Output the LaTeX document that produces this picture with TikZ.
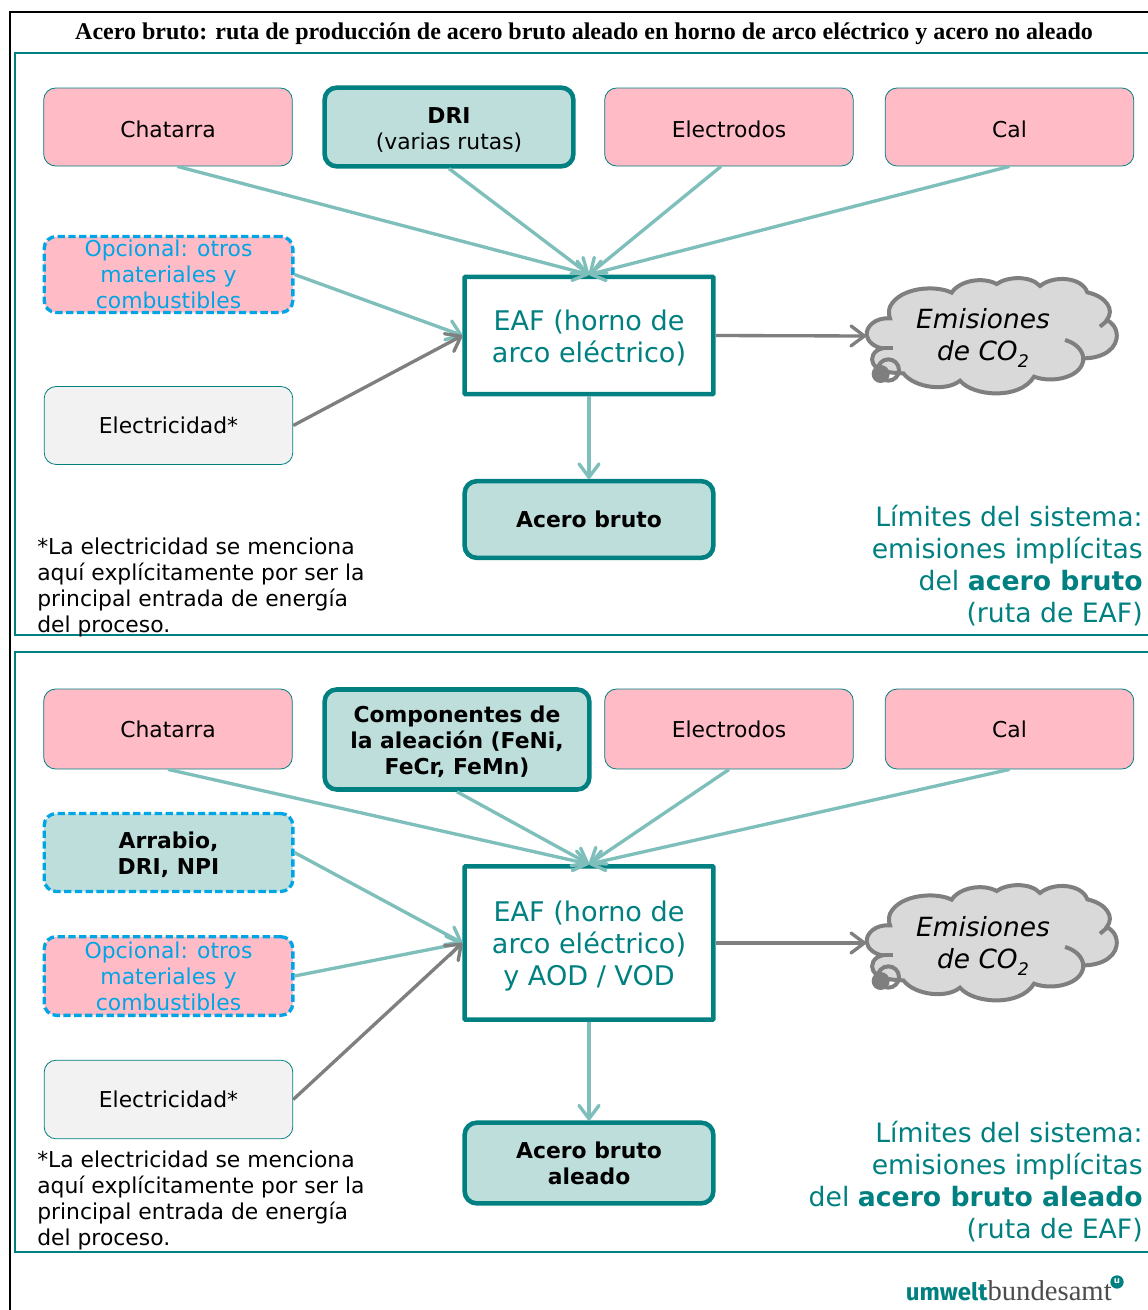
\documentclass[tikz,border=0pt]{standalone}
\usepackage{fontspec}
\setmainfont{DejaVu Sans}
\newfontfamily\titlefont{Liberation Serif}
\newfontfamily\logofont{Fira Sans}
\newfontfamily\logoserif{Liberation Serif}
\usetikzlibrary{arrows.meta,calc}
\definecolor{teal1}{HTML}{008080}
\definecolor{lteal}{HTML}{7FBFBB}
\definecolor{pinkb}{HTML}{FFBBC6}
\definecolor{tealf}{HTML}{BEDEDC}
\definecolor{graya}{HTML}{7F7F7F}
\definecolor{cyanb}{HTML}{00A5E5}
\definecolor{cloudf}{HTML}{D9D9D9}
\newcommand{\boxfont}{\fontsize{16.4pt}{19.5pt}\selectfont}
\newcommand{\bigfont}{\fontsize{20.3pt}{24pt}\selectfont}
\newcommand{\limfont}{\fontsize{20pt}{24pt}\selectfont}
\newcommand{\firstline}{\rule{0pt}{.97em}}
\newcommand{\drawcloud}[1]{%
 \begin{scope}[shift={(840,#1)},x=0.25pt,y=-0.25pt]
  \draw[cloudline,fill=cloudf] (150,175)
   .. controls (105,172) and (78,200) .. (80,225)
   .. controls (82,245) and (105,262) .. (128,265)
   .. controls (100,270) and (90,295) .. (100,312)
   .. controls (108,328) and (130,338) .. (190,340)
   .. controls (225,385) and (320,395) .. (360,362)
   .. controls (400,410) and (540,420) .. (582,350)
   .. controls (640,372) and (730,350) .. (730,295)
   .. controls (790,295) and (835,265) .. (830,220)
   .. controls (828,205) and (820,190) .. (800,180)
   .. controls (825,150) and (800,110) .. (742,97)
   .. controls (725,50) and (640,45) .. (600,78)
   .. controls (570,45) and (500,50) .. (470,72)
   .. controls (430,50) and (360,60) .. (335,98)
   .. controls (290,75) and (180,80) .. (150,140)
   .. controls (146,150) and (146,165) .. (150,175) -- cycle;
  \draw[cloudline] (128,265) -- (160,265);
  \draw[cloudline] (780,200) -- (806,178);
  \draw[cloudline] (675,240) .. controls (705,248) and (730,270) .. (730,298);
  \draw[cloudline] (145,330) circle (32);
  \fill[graya] (122,342) circle (27);
 \end{scope}}
\tikzset{
 x=0.75pt,y=-0.75pt,
 cloudline/.style={draw=graya,line width=3pt},
 rbox/.style={rounded corners=9pt,inner sep=0pt,align=center,font=\boxfont,text=black},
 pinkbox/.style={rbox,draw=teal1,line width=0.6pt,fill=pinkb,minimum width=186.5pt,minimum height=58.5pt},
 elecbox/.style={rbox,draw=teal1,line width=0.6pt,fill=black!5,minimum width=186.5pt,minimum height=58.5pt},
 tealbox/.style={rbox,draw=teal1,line width=3.4pt,fill=tealf,minimum width=186.5pt},
 optbox/.style={rbox,draw=cyanb,line width=2.5pt,dash pattern=on 5.5pt off 2.6pt,fill=pinkb,text=cyanb,minimum width=186.5pt},
 optdark/.style={optbox,fill=tealf,text=black},
 eafbox/.style={draw=teal1,line width=3.4pt,fill=white,inner sep=0pt,align=center,text=teal1,font=\bigfont,minimum width=186.5pt,rounded corners=0.6pt},
 cloudtext/.style={inner sep=0pt,align=center,font=\fontsize{19.8pt}{24pt}\selectfont\itshape,text=black},
 notetext/.style={inner sep=0pt,align=left,anchor=north west,font=\fontsize{16.4pt}{19.5pt}\selectfont,text=black},
 limittext/.style={inner sep=0pt,align=right,anchor=east,font=\limfont,text=teal1},
 inarrow/.style={draw=lteal,line width=2.5pt,-{Straight Barb[length=10pt,width=15pt,round]}},
 grayarrow/.style={draw=graya,line width=2.5pt,-{Straight Barb[length=10pt,width=15pt,round]}},
}
\begin{document}
\begin{tikzpicture}
\useasboundingbox (0,0) rectangle (1148,1310);
\fill[white] (0,0) rectangle (1148,1310);
% frames
\draw[black,line width=1.6pt] (1148,12) -- (10,12) -- (10,1310);
\draw[teal1,line width=1.5pt] (1148,53) -- (15,53) -- (15,635) -- (1148,635);
\draw[teal1,line width=1.5pt] (1148,652) -- (15,652) -- (15,1252) -- (1148,1252);
\node[inner sep=0pt,font=\fontsize{18pt}{20pt}\selectfont\titlefont\bfseries] (title) at (584,34) {Acero bruto: ruta de producción de acero bruto aleado en horno de arco eléctrico y acero no aleado};

% --- upper panel
\node[pinkbox] (chatA) at (168,127) {\firstline Chatarra};
\node[tealbox,minimum height=59pt] (driA) at (449,127) {\firstline\textbf{DRI}\\(varias rutas)};
\node[pinkbox] (elecA) at (729,127) {\firstline Electrodos};
\node[pinkbox] (calA) at (1009.5,127) {\firstline Cal};
\node[optbox,minimum height=57pt] (optA) at (168.5,274.5) {Opcional: otros\\materiales y\\combustibles};
\node[elecbox] (elA) at (168.5,425.5) {Electricidad*};
\node[eafbox,minimum height=88pt] (eafA) at (589,335.5) {\firstline EAF (horno de\\arco eléctrico)};
\node[tealbox,minimum height=57.5pt] (prodA) at (589,519.5) {\textbf{Acero bruto}};
\coordinate (cloudAin) at (866,336);
\node[notetext] (noteA) at (37,538) {*La electricidad se menciona\\aquí explícitamente por ser la\\principal entrada de energía\\del proceso.};
\node[limittext] (limA) at (1143,566) {Límites del sistema:\\emisiones implícitas\\del \textbf{acero bruto}\\(ruta de EAF)};

\draw[inarrow] ([xshift=7pt]chatA.south) -- (eafA.north);
\draw[inarrow] (driA.south) -- (eafA.north);
\draw[inarrow] ([xshift=-6pt]elecA.south) -- (eafA.north);
\draw[inarrow] (calA.south) -- (eafA.north);
\draw[inarrow] (optA.east) -- (eafA.west);
\draw[grayarrow] (elA.east) -- (eafA.west);
\draw[inarrow] (eafA.south) -- (prodA.north);

% --- lower panel
\node[pinkbox,minimum height=60pt] (chatB) at (168,729) {Chatarra};
\node[tealbox,minimum width=198.5pt,minimum height=75pt] (alloyB) at (457,739.5) {\firstline\textbf{Componentes de}\\\textbf{la aleación (FeNi,}\\\textbf{FeCr, FeMn)}};
\node[pinkbox,minimum height=60pt] (elecB) at (729,729) {Electrodos};
\node[pinkbox,minimum height=60pt] (calB) at (1009.5,729) {Cal};
\node[optdark,minimum height=58.5pt] (arrB) at (168.5,852.5) {\firstline\textbf{Arrabio,}\\\textbf{DRI, NPI}};
\node[optbox,minimum height=59pt] (optB) at (168.5,976) {Opcional: otros\\materiales y\\combustibles};
\node[elecbox,minimum height=59pt] (elB) at (168.5,1099.5) {Electricidad*};
\node[eafbox,minimum height=115pt] (eafB) at (589,943) {\firstline EAF (horno de\\arco eléctrico)\\y AOD / VOD};
\node[tealbox,minimum height=60.5pt] (prodB) at (589,1163) {\textbf{Acero bruto}\\\textbf{aleado}};
\coordinate (cloudBin) at (866,943);
\node[notetext] (noteB) at (37,1151) {*La electricidad se menciona\\aquí explícitamente por ser la\\principal entrada de energía\\del proceso.};
\node[limittext] (limB) at (1143,1182) {Límites del sistema:\\emisiones implícitas\\del \textbf{acero bruto aleado}\\(ruta de EAF)};

\draw[inarrow] (chatB.south) -- (eafB.north);
\draw[inarrow] (alloyB.south) -- (eafB.north);
\draw[inarrow] (elecB.south) -- (eafB.north);
\draw[inarrow] (calB.south) -- (eafB.north);
\draw[inarrow] (arrB.east) -- (eafB.west);
\draw[inarrow] (optB.east) -- (eafB.west);
\draw[grayarrow] (elB.east) -- (eafB.west);
\draw[inarrow] (eafB.south) -- (prodB.north);

% clouds and their arrows
\drawcloud{260}
\drawcloud{867}
\node[cloudtext] (cloudA) at (983,338) {Emisiones\\de CO\raisebox{-.45ex}{\fontsize{13pt}{14pt}\selectfont 2}};
\node[cloudtext] (cloudB) at (983,946) {Emisiones\\de CO\raisebox{-.45ex}{\fontsize{13pt}{14pt}\selectfont 2}};
\draw[grayarrow] (eafA.east) -- (cloudAin);
\draw[grayarrow] (eafB.east) -- (cloudBin);

% logo
\node[inner sep=0pt,anchor=base east,font=\fontsize{18pt}{20pt}\selectfont] (logo) at (1112,1300) {{\logofont\bfseries\color{teal1}umwelt}{\logoserif\fontsize{21.5pt}{22pt}\selectfont\color{black!70}bundesamt}};
\fill[teal1] (1117,1282) circle (5pt);
\node[inner sep=0pt,text=white,font=\fontsize{6.5pt}{7pt}\selectfont\bfseries] (logou) at (1117,1281.5) {u};
\end{tikzpicture}
\end{document}
